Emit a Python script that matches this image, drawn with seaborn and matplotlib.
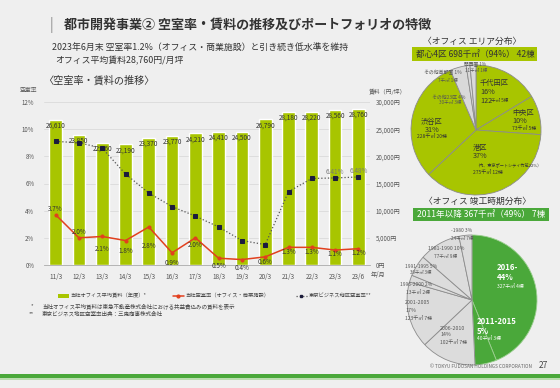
import numpy as np
import pandas as pd
import matplotlib
matplotlib.use("Agg")
import matplotlib.pyplot as plt
from matplotlib.lines import Line2D
from matplotlib.patches import Patch, Rectangle
import seaborn as sns

# ---- data ----
periods = ["11/3", "12/3", "13/3", "14/3", "15/3", "16/3", "17/3",
           "18/3", "19/3", "20/3", "21/3", "22/3", "23/3", "23/6"]
rent = [26610, 23850, 22460, 22190, 23370, 23770, 24210,
        24410, 24500, 26790, 28180, 28220, 28560, 28760]
own_vacancy = [3.7, 2.0, 2.1, 1.8, 2.8, 0.9, 2.0, 0.5, 0.4, 0.6, 1.3, 1.3, 1.1, 1.2]
tokyo_vacancy = [9.1, 9.0, 8.6, 6.7, 5.3, 4.3, 3.6, 2.8, 1.8, 1.5, 5.4, 6.37, 6.41, 6.48]

area_names = ["千代田区", "中央区", "港区", "渋谷区", "その他23区", "その他首都圏", "関西圏"]
area_share = [16, 10, 37, 31, 4, 1, 1]
area_floor = [122, 73, 275, 228, 30, 7, 11]
area_bldg = [5, 5, 12, 20, 3, 1, 1]

era_names = ["2016-", "2011-2015", "2006-2010", "2001-2005",
             "1996-2000", "1991-1995", "1981-1990", "-1980"]
era_share = [44, 5, 14, 17, 2, 5, 10, 3]
era_floor = [327, 40, 102, 123, 13, 39, 77, 24]
era_bldg = [4, 3, 7, 7, 2, 3, 9, 7]

# ---- style ----
sns.set_theme(style="white")
plt.rcParams["font.family"] = ["Noto Sans CJK JP", "DejaVu Sans"]
BG = "#efefef"
LIME = "#a8c500"
DKGREEN = "#4aa83a"
RED = "#e2401e"
TXT = "#333333"
GRY = "#555555"
W, H = 560, 388

def fx(x):
    return x / W

def fy(y):
    return 1 - y / H

fig = plt.figure(figsize=(5.6, 3.88), dpi=100, facecolor=BG)

# ---- headings ----
fig.text(fx(50), fy(25), "|", fontsize=10, color="#888888", va="center")
fig.text(fx(64), fy(25), "都市開発事業② 空室率・賃料の推移及びポートフォリオの特徴",
         fontsize=9.4, fontweight="bold", color=TXT, va="center")
fig.text(fx(52), fy(47), "2023年6月末 空室率1.2%（オフィス・商業施設）と引き続き低水準を維持",
         fontsize=6.4, color=TXT, va="center")
fig.text(fx(55), fy(61), "オフィス平均賃料28,760円/月坪", fontsize=6.4, color=TXT, va="center")
fig.text(fx(43), fy(81), "〈空室率・賃料の推移〉", fontsize=7.3, color=TXT, va="center")

# ---- bar + line chart ----
ax_rent = fig.add_axes([fx(44), fy(265), (370 - 44) / W, (265 - 102) / H])
ax_rent.set_facecolor(BG)
df = pd.DataFrame({"period": periods, "rent": rent})
sns.barplot(data=df, x="period", y="rent", ax=ax_rent, color=LIME,
            saturation=1, width=0.55, zorder=2)
ax_rent.bar_label(ax_rent.containers[0], labels=[f"{v:,}" for v in rent],
                  padding=-7, fontsize=4.6, color=TXT)
ax_rent.set_ylim(0, 30000)
ax_rent.set_xlim(-0.5, len(periods) - 0.5)
ax_rent.grid(axis="y", color="#dadada", linewidth=0.6, zorder=0)
ax_rent.set_axisbelow(True)
ax_rent.set_xlabel("")
ax_rent.set_ylabel("")
ax_rent.set_xticks(np.arange(len(periods)))
ax_rent.set_xticklabels(periods)
ax_rent.set_xticks(np.arange(len(periods)) - 0.5, minor=True)
ax_rent.tick_params(axis="x", which="major", length=0, labelsize=4.6,
                    labelcolor=GRY, pad=6)
ax_rent.tick_params(axis="x", which="minor", length=3, color="#aaaaaa", width=0.5)
for s in ["top", "left", "right"]:
    ax_rent.spines[s].set_visible(False)
ax_rent.spines["bottom"].set_color("#aaaaaa")
ax_rent.spines["bottom"].set_linewidth(0.6)

ax_vac = ax_rent.twinx()
ax_vac.patch.set_visible(False)
xs = np.arange(len(periods))
sns.lineplot(x=xs, y=tokyo_vacancy, ax=ax_vac, color=GRY, linestyle=":",
             linewidth=0.9, marker="s", markersize=2.2, markerfacecolor="#1c1c3c",
             markeredgecolor="#1c1c3c")
sns.lineplot(x=xs, y=own_vacancy, ax=ax_vac, color=RED, linewidth=1.1,
             marker="o", markersize=2.2, markerfacecolor=RED, markeredgecolor=RED)
ax_vac.set_ylim(0, 12)
ax_vac.set_xlim(-0.5, len(periods) - 0.5)
ax_vac.set_ylabel("")
for s in ["top", "left", "right", "bottom"]:
    ax_vac.spines[s].set_visible(False)

# twinx moves the original ticks to the left, so set sides afterwards
ax_rent.yaxis.tick_right()
ax_rent.set_yticks(np.arange(0, 30001, 5000))
ax_rent.set_yticklabels([f"{v:,}円" for v in range(0, 30001, 5000)])
ax_rent.tick_params(axis="y", length=0, labelsize=4.4, labelcolor=GRY, pad=4,
                    left=False, labelleft=False, right=False, labelright=True)
ax_vac.yaxis.tick_left()
ax_vac.set_yticks(np.arange(0, 13, 2))
ax_vac.set_yticklabels([f"{v}%" for v in range(0, 13, 2)])
ax_vac.tick_params(axis="y", length=0, labelsize=4.4, labelcolor=GRY, pad=7,
                   left=False, labelleft=True, right=False, labelright=False)

# red value labels (pixel offsets: negative = below)
own_offsets = [(0, 6), (0, 6), (0, -13), (0, -10), (0, -19), (0, -10), (0, -7),
               (0, -8), (0, -8), (0, -5), (0, -5), (0, -5), (0, -4), (0, -4)]
for i, v in enumerate(own_vacancy):
    dx, dy = own_offsets[i]
    ax_vac.annotate(f"{v}%", (xs[i], v), xytext=(dx * 0.72, dy * 0.72),
                    textcoords="offset points", ha="center", va="center",
                    fontsize=4.6, color=TXT)
for i in [len(periods) - 2, len(periods) - 1]:
    ax_vac.annotate(f"{tokyo_vacancy[i]}%", (xs[i], tokyo_vacancy[i]),
                    xytext=(0, 4), textcoords="offset points", ha="center",
                    va="center", fontsize=4.6, color="#777777")

fig.text(fx(28), fy(90), "空室率", fontsize=4.2, color=GRY, ha="center", va="center")
fig.text(fx(369), fy(92), "賃料（円/坪）", fontsize=4.2, color=GRY, va="center")
fig.text(fx(371), fy(275), "年/月", fontsize=4.4, color=GRY, va="center")

handles = [Patch(facecolor=LIME, edgecolor="none"),
           Line2D([], [], color=RED, linewidth=1.1, marker="o", markersize=2),
           Line2D([], [], color=GRY, linestyle=":", linewidth=0.9, marker="s",
                  markersize=2, markerfacecolor="#1c1c3c", markeredgecolor="#1c1c3c")]
labels = ["当社オフィス平均賃料（年度）*", "当社空室率（オフィス・商業施設）", "東京ビジネス地区空室率**"]
fig.legend(handles, labels, loc="center left", bbox_to_anchor=(fx(53), fy(296)),
           ncol=3, frameon=False, fontsize=3.8, handlelength=2.1, handleheight=0.8,
           handletextpad=0.3, columnspacing=5.0, labelcolor="#444444")

fig.text(fx(31), fy(306), "*", fontsize=4.0, color="#444444", va="center")
fig.text(fx(42), fy(306), "当社オフィス平均賃料は東急不動産株式会社における共益費込みの賃料を表示",
         fontsize=4.0, color="#444444", va="center")
fig.text(fx(29), fy(314), "**", fontsize=4.0, color="#444444", va="center")
fig.text(fx(42), fy(314), "東京ビジネス地区空室率出典：三鬼商事株式会社",
         fontsize=4.0, color="#444444", va="center")

# ---- pie 1: area ----
fig.text(fx(472), fy(41), "〈オフィス エリア分布〉", fontsize=6.3, color=TXT,
         ha="center", va="center")
fig.patches.append(Rectangle((fx(412), fy(61)), (537 - 412) / W, 14 / H,
                             transform=fig.transFigure, facecolor=LIME, edgecolor="none"))
fig.text(fx(475), fy(54), "都心4区 698千㎡（94%） 42棟", fontsize=6.2, color=TXT,
         ha="center", va="center")

r1 = 65
ax_p1 = fig.add_axes([fx(476 - r1), fy(130 + r1), 2 * r1 / W, 2 * r1 / H])
area_colors = [LIME] * 4 + ["#d9d9d9"] * 3
ax_p1.pie(area_floor, colors=area_colors, startangle=90, counterclock=False,
          wedgeprops=dict(edgecolor="#8c8c8c", linewidth=0.6))
ax_p1.set_xlim(-1, 1)
ax_p1.set_ylim(-1, 1)
ax_p1.axis("off")

def ptxt(ax, cx, cy, r, x, y, s, size, ha="left", color=TXT, weight="normal"):
    ax.text((x - cx) / r, (cy - y) / r, s, fontsize=size, ha=ha, va="center",
            color=color, fontweight=weight, clip_on=False)

c1 = (476, 130, r1)
ptxt(ax_p1, *c1, 480, 83, area_names[0], 5.2)
ptxt(ax_p1, *c1, 480, 92, f"{area_share[0]}%", 5.2)
ptxt(ax_p1, *c1, 480, 101, f"{area_floor[0]}", 5.2)
ptxt(ax_p1, *c1, 491, 101, f"千㎡ {area_bldg[0]}棟", 3.3)
ptxt(ax_p1, *c1, 512, 113, area_names[1], 5.2)
ptxt(ax_p1, *c1, 512, 121, f"{area_share[1]}%", 5.2)
ptxt(ax_p1, *c1, 512, 128, f"{area_floor[1]}千㎡ {area_bldg[1]}棟", 3.6)
ptxt(ax_p1, *c1, 473, 148, area_names[2], 5.2)
ptxt(ax_p1, *c1, 473, 156, f"{area_share[2]}%", 5.2)
ptxt(ax_p1, *c1, 475, 165, "（内、東京ポートシティ竹芝22%）", 3.0)
ptxt(ax_p1, *c1, 473, 172, f"{area_floor[2]}千㎡ {area_bldg[2]}棟", 3.6)
ptxt(ax_p1, *c1, 432, 122, area_names[3], 5.2, ha="center")
ptxt(ax_p1, *c1, 432, 130, f"{area_share[3]}%", 5.2, ha="center")
ptxt(ax_p1, *c1, 432, 137, f"{area_floor[3]}千㎡ {area_bldg[3]}棟", 3.6, ha="center")
ptxt(ax_p1, *c1, 449, 97, f"{area_names[4]} {area_share[4]}%", 3.5, ha="center", color=GRY)
ptxt(ax_p1, *c1, 450, 103, f"{area_floor[4]}千㎡ {area_bldg[4]}棟", 3.3, ha="center", color=GRY)
ptxt(ax_p1, *c1, 443, 73, f"{area_names[5]} {area_share[5]}%", 3.5, ha="center", color=GRY)
ptxt(ax_p1, *c1, 448, 80, f"{area_floor[5]}千㎡ {area_bldg[5]}棟", 3.3, ha="center", color=GRY)
ptxt(ax_p1, *c1, 475, 64, f"{area_names[6]} {area_share[6]}%", 3.4, ha="center", color=GRY)
ptxt(ax_p1, *c1, 476, 71, f"{area_floor[6]}千㎡ {area_bldg[6]}棟", 3.3, ha="center", color=GRY)

# ---- pie 2: completion period ----
fig.text(fx(478), fy(201), "〈オフィス 竣工時期分布〉", fontsize=6.3, color=TXT,
         ha="center", va="center")
fig.patches.append(Rectangle((fx(413), fy(221)), (549 - 413) / W, 13 / H,
                             transform=fig.transFigure, facecolor=DKGREEN, edgecolor="none"))
fig.text(fx(481), fy(214.5), "2011年以降 367千㎡（49%） 7棟", fontsize=6.2, color="white",
         ha="center", va="center")

r2 = 65
cut = 362
ax_p2 = fig.add_axes([fx(472 - r2), fy(cut), 2 * r2 / W, (cut - 300 + r2) / H])
era_colors = [DKGREEN] * 2 + ["#dcdcdc"] * 6
wedges, _ = ax_p2.pie(era_floor, colors=era_colors, startangle=90, counterclock=False,
                      wedgeprops=dict(edgecolor="#8c8c8c", linewidth=0.6))
wedges[0].set_edgecolor("#9ccf90")
wedges[1].set_edgecolor("#9ccf90")
ax_p2.set_xlim(-1, 1)
ax_p2.set_ylim(-(cut - 300) / r2, 1)
ax_p2.set_aspect("auto")
ax_p2.axis("off")

c2 = (472, 300, r2)
ptxt(ax_p2, *c2, 497, 268, era_names[0], 5.6, color="white", weight="bold")
ptxt(ax_p2, *c2, 497, 278, f"{era_share[0]}%", 5.6, color="white", weight="bold")
ptxt(ax_p2, *c2, 497, 287, f"{era_floor[0]}千㎡ {era_bldg[0]}棟", 3.5, color="white")
ptxt(ax_p2, *c2, 477, 322, era_names[1], 5.6, color="white", weight="bold")
ptxt(ax_p2, *c2, 477, 331, f"{era_share[1]}%", 5.6, color="white", weight="bold")
ptxt(ax_p2, *c2, 477, 338, f"{era_floor[1]}千㎡ {era_bldg[1]}棟", 3.5, color="white")
ptxt(ax_p2, *c2, 440, 328, era_names[2], 3.8, color=GRY)
ptxt(ax_p2, *c2, 440, 335, f"{era_share[2]}%", 3.8, color=GRY)
ptxt(ax_p2, *c2, 440, 342, f"{era_floor[2]}千㎡ {era_bldg[2]}棟", 3.6, color=GRY)
ptxt(ax_p2, *c2, 405, 303, era_names[3], 3.8, color=GRY)
ptxt(ax_p2, *c2, 405, 311, f"{era_share[3]}%", 3.8, color=GRY)
ptxt(ax_p2, *c2, 405, 318, f"{era_floor[3]}千㎡ {era_bldg[3]}棟", 3.6, color=GRY)
ptxt(ax_p2, *c2, 416, 285, f"{era_names[4]} {era_share[4]}%", 3.5, ha="center", color=GRY)
ptxt(ax_p2, *c2, 418, 292, f"{era_floor[4]}千㎡ {era_bldg[4]}棟", 3.5, ha="center", color=GRY)
ptxt(ax_p2, *c2, 421, 267, f"{era_names[5]} {era_share[5]}%", 3.5, ha="center", color=GRY)
ptxt(ax_p2, *c2, 421, 273, f"{era_floor[5]}千㎡ {era_bldg[5]}棟", 3.2, ha="center", color=GRY)
ptxt(ax_p2, *c2, 446, 249, f"{era_names[6]} {era_share[6]}%", 3.7, ha="center", color=GRY)
ptxt(ax_p2, *c2, 446, 256, f"{era_floor[6]}千㎡ {era_bldg[6]}棟", 3.4, ha="center", color=GRY)
ptxt(ax_p2, *c2, 462, 231, f"{era_names[7]} {era_share[7]}%", 3.5, ha="center", color=GRY)
ptxt(ax_p2, *c2, 462, 238, f"{era_floor[7]}千㎡ {era_bldg[7]}棟", 3.3, ha="center", color=GRY)

# ---- footer ----
fig.text(fx(532), fy(367), "© TOKYU FUDOSAN HOLDINGS CORPORATION", fontsize=3.4,
         color="#666666", ha="right", va="center")
fig.text(fx(539), fy(366), "27", fontsize=6, color="#444444", va="center")
fig.patches.append(Rectangle((0, fy(378)), 1, 4 / H, transform=fig.transFigure,
                             facecolor=DKGREEN, edgecolor="none"))
fig.patches.append(Rectangle((0, fy(380)), 1, 2 / H, transform=fig.transFigure,
                             facecolor="#b9dcae", edgecolor="none"))

fig.savefig("out.png", dpi=100, facecolor=BG)
